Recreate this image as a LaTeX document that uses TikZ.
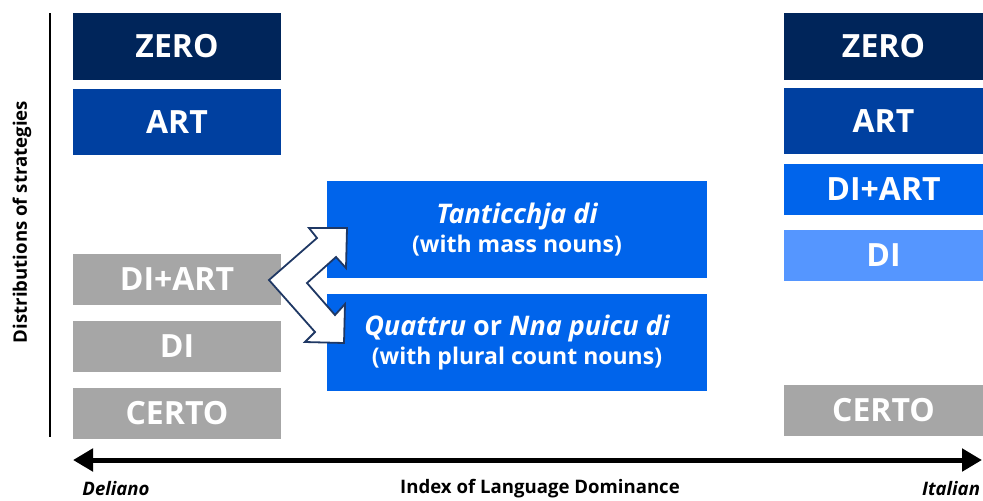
\documentclass[tikz,border=0pt]{standalone}
\usepackage{fontspec}
\setmainfont{Open Sans}
\usepackage{xcolor}
\usepackage{tikz}
\usetikzlibrary{positioning, arrows.meta}

\definecolor{zeroblue}{RGB}{0,37,90}
\definecolor{artblue}{RGB}{0,64,160}
\definecolor{diartblue}{RGB}{0,100,235}
\definecolor{diblue}{RGB}{85,150,255}
\definecolor{certogrey}{RGB}{166,166,166}
\definecolor{shiftline}{RGB}{31,56,100}

\begin{document}
\begin{tikzpicture}[
        x=0.5pt, y=-0.5pt,
        node distance=4.5pt,
        strategy/.style={rectangle, inner sep=0pt, outer sep=0pt, minimum width=104pt, text=white, font=\fontsize{16}{18}\selectfont\bfseries},
        tall/.style={minimum height=33.25pt},
        short/.style={minimum height=25.5pt},
        variety/.style={rectangle, inner sep=0pt, outer sep=0pt, minimum width=190pt, minimum height=48.5pt, fill=diartblue, text=white, align=center, font=\fontsize{11.5}{14.5}\selectfont\bfseries},
        shiftarrow/.style={draw=shiftline, fill=white, line width=0.9pt, line join=miter},
        axis/.style={line width=2.5pt, {Triangle[length=10pt,width=11pt]}-{Triangle[length=10pt,width=11pt]}},
        axislabel/.style={font=\fontsize{9.3}{11}\selectfont\bfseries}
    ]
        \useasboundingbox (0,0) rectangle (983,500);

        % ===== Deliano =====
        \node (lzero) [strategy, tall, fill=zeroblue, anchor=north west] at (73,13) {ZERO};
        \node (lart) [strategy, tall, fill=artblue, below=of lzero] {ART};
        \node (ldiart) [strategy, short, fill=certogrey, anchor=north west] at (73,254) {DI+ART};
        \node (ldi) [strategy, short, fill=certogrey, below=8pt of ldiart] {DI};
        \node (lcerto) [strategy, short, fill=certogrey, below=8pt of ldi] {CERTO};

        % ===== Italian =====
        \node (rzero) [strategy, tall, minimum width=99.5pt, fill=zeroblue, anchor=north west] at (784,13) {ZERO};
        \node (rart) [strategy, tall, minimum width=99.5pt, fill=artblue, below=4pt of rzero] {ART};
        \node (rdiart) [strategy, short, minimum width=99.5pt, fill=diartblue, below=5pt of rart] {DI+ART};
        \node (rdi) [strategy, short, minimum width=99.5pt, fill=diblue, below=7.5pt of rdiart] {DI};
        \node (rcerto) [strategy, short, minimum width=99.5pt, fill=certogrey, anchor=north west] at (784,385) {CERTO};

        % ===== Calabrian forms =====
        \node (mass) [variety, anchor=north west] at (327,181) {{\fontsize{13.5}{15}\selectfont\itshape Tanticchja di}\\(with mass nouns)};
        \node (count) [variety, below=8pt of mass] {{\fontsize{13.5}{15}\selectfont\itshape Quattru \upshape or \itshape Nna puicu di}\\(with plural count nouns)};

        % ===== split arrow =====
        \draw [shiftarrow] (269,280) -- (317,238) -- (309,228) -- (347,228) -- (346,268) -- (336,257)
            -- (307,283) -- (335,315) -- (345,304) -- (344,343) -- (305,342) -- (315,332) -- cycle;

        % ===== axes =====
        \coordinate (top) at (50,13);
        \coordinate (bottom) at (50,437);
        \draw [line width=1.3pt] (top) -- (bottom);
        \node (strategies) [axislabel, rotate=90] at (22,222) {Distributions of strategies};

        \coordinate (low) at (73,460);
        \coordinate (high) at (982,460);
        \draw [axis] (low) -- (high);
        \node (deliano) [axislabel, font=\fontsize{9.3}{11}\selectfont\bfseries\itshape] at (116,489) {Deliano};
        \node (dominance) [axislabel] at (540,489) {Index of Language Dominance};
        \node (italian) [axislabel, font=\fontsize{9.3}{11}\selectfont\bfseries\itshape] at (951,489) {Italian};

    \end{tikzpicture}
\end{document}
